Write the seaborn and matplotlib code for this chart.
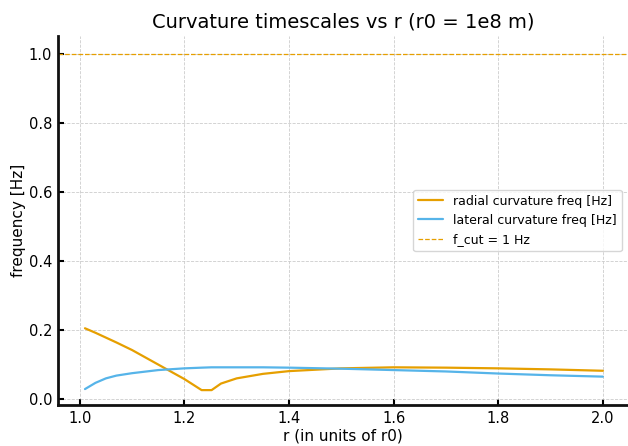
import matplotlib
matplotlib.use("Agg")
import matplotlib.pyplot as plt
import seaborn as sns
import pandas as pd

r_vals = [1.01, 1.03, 1.05, 1.07, 1.10, 1.15, 1.20, 1.233, 1.252, 1.27, 1.30, 1.35, 1.40, 1.50, 1.60, 1.70, 1.80, 1.90, 2.00]
radial_freq = [0.205, 0.192, 0.178, 0.164, 0.142, 0.100, 0.058, 0.026, 0.026, 0.045, 0.060, 0.073, 0.081, 0.089, 0.092, 0.091, 0.089, 0.086, 0.082]
lateral_freq = [0.029, 0.047, 0.060, 0.068, 0.075, 0.084, 0.089, 0.091, 0.092, 0.092, 0.092, 0.092, 0.091, 0.088, 0.084, 0.080, 0.074, 0.069, 0.065]
f_cut = 1.0

sns.set_style("ticks")
plt.rcParams['font.family'] = ['DejaVu Sans']
plt.rcParams['text.color'] = 'black'
plt.rcParams['axes.labelcolor'] = 'black'
plt.rcParams['xtick.color'] = 'black'
plt.rcParams['ytick.color'] = 'black'
plt.rcParams['axes.edgecolor'] = '#111111'

df = pd.DataFrame({"r": r_vals, "radial": radial_freq, "lateral": lateral_freq})

fig, ax = plt.subplots(figsize=(6.28, 4.46), dpi=100)
sns.lineplot(data=df, x="r", y="radial", ax=ax, color="#E69F00", lw=1.6,
             label="radial curvature freq [Hz]")
sns.lineplot(data=df, x="r", y="lateral", ax=ax, color="#56B4E9", lw=1.6,
             label="lateral curvature freq [Hz]")
ax.axhline(f_cut, color="#E69F00", ls="--", lw=0.9, label="f_cut = 1 Hz")

ax.set_xlim(0.958, 2.048)
ax.set_ylim(-0.017, 1.052)
ax.set_xticks([1.0, 1.2, 1.4, 1.6, 1.8, 2.0])
ax.set_yticks([0.0, 0.2, 0.4, 0.6, 0.8, 1.0])
ax.grid(True, ls="--", lw=0.6, color="#cccccc")
ax.set_axisbelow(True)
sns.despine(ax=ax)
ax.spines['left'].set_linewidth(2)
ax.spines['bottom'].set_linewidth(2)
ax.tick_params(direction="in", width=1.5, length=4, labelsize=10.5, pad=4)
ax.set_title("Curvature timescales vs r (r0 = 1e8 m)", fontsize=14)
ax.set_xlabel("r (in units of r0)", fontsize=11, labelpad=2)
ax.set_ylabel("frequency [Hz]", fontsize=11, labelpad=2)
ax.legend(loc="center right", fontsize=9)
fig.subplots_adjust(left=0.092, right=1.0, bottom=0.092, top=0.92)
fig.savefig("out.png", dpi=100)
